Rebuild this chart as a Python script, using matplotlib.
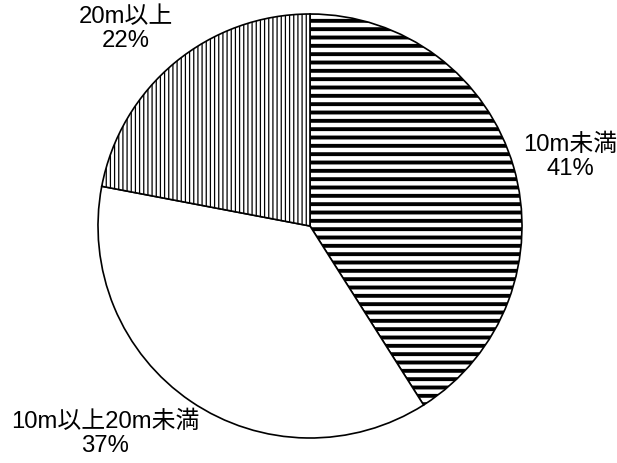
import matplotlib
matplotlib.use("Agg")
import matplotlib.pyplot as plt

plt.rcParams['font.family'] = ['Liberation Sans', 'Noto Sans CJK JP', 'DejaVu Sans']

labels = ["10m未満", "10m以上20m未満", "20m以上"]
shares = [41, 37, 22]
hatches = ["--", "", "||||"]
hatch_widths = [2.8, 1.0, 0.9]
label_pos = [(570, 306), (105, 29), (126, 434)]

W, H = 617, 463
fig = plt.figure(figsize=(W / 100, H / 100), dpi=100)
ax = fig.add_axes([0, 0, 1, 1])

wedges, _ = ax.pie(shares, startangle=90, counterclock=False,
                   center=(310, H - 226), radius=212,
                   colors=["white"] * 3,
                   wedgeprops=dict(edgecolor="black", linewidth=1.2))
for w, h, hw in zip(wedges, hatches, hatch_widths):
    w.set_hatch(h)
    if hasattr(w, "set_hatch_linewidth"):
        w.set_hatch_linewidth(hw)

for lab, val, (x, y) in zip(labels, shares, label_pos):
    ax.text(x, y, f"{lab}\n{val}%", ha="center", va="center",
            fontsize=17.2, linespacing=1.1, color="black")

ax.set_xlim(0, W)
ax.set_ylim(0, H)
ax.set_aspect("equal")
ax.axis("off")
fig.savefig("out.png", dpi=100)
